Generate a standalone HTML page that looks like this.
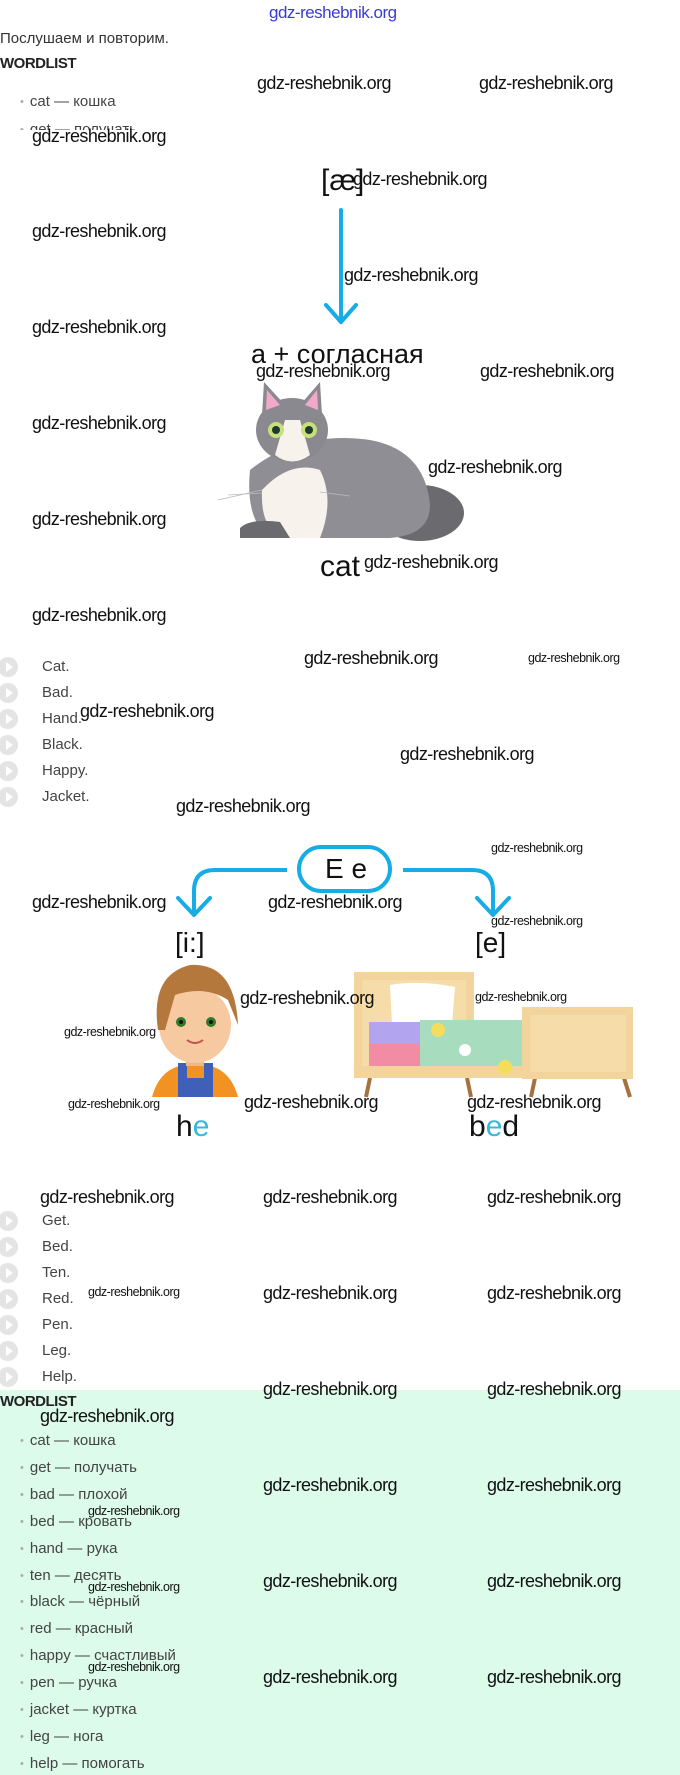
<!DOCTYPE html>
<html><head><meta charset="utf-8"><style>
html,body{margin:0;padding:0;background:#fff;}
body{width:680px;height:1775px;position:relative;overflow:hidden;font-family:"Liberation Sans",sans-serif;}
.a{position:absolute;white-space:nowrap;line-height:1;}
.w{position:absolute;white-space:nowrap;line-height:1;font-size:18px;letter-spacing:-0.6px;color:#111;font-family:"Liberation Sans Narrow","Liberation Sans",sans-serif;}
.s{font-size:12.5px;letter-spacing:-0.5px;}
.li{position:absolute;left:42px;font-size:15px;color:#444;line-height:1;}
.ic{position:absolute;left:-2px;width:20px;height:20px;border-radius:50%;background:#e4e4e4;}
.ic:after{content:"";position:absolute;left:8px;top:5px;border-left:7px solid #fff;border-top:5px solid transparent;border-bottom:5px solid transparent;}
.wl{position:absolute;left:20px;font-size:15px;color:#444;line-height:1;font-family:"Liberation Sans","DejaVu Sans",sans-serif;}
.wl:before{content:"•";color:#aaa;font-size:11px;margin-right:6px;position:relative;top:-1px;}
</style></head><body>
<div style="position:absolute;left:0;top:1390px;width:680px;height:385px;background:#dcfbea;"></div>
<svg style="position:absolute;left:0;top:0" width="680" height="1775">
<line x1="341" y1="210" x2="341" y2="322" stroke="#16ace6" stroke-width="4" stroke-linecap="round"/>
<polyline points="326,305 341,322 356,305" fill="none" stroke="#16ace6" stroke-width="4" stroke-linecap="round" stroke-linejoin="round"/>
<ellipse cx="420" cy="513" rx="44" ry="28" fill="#6b6a6f"/>
<path d="M250,470 Q300,430 370,440 Q425,450 430,505 Q430,535 390,538 L270,538 Q245,520 250,470Z" fill="#8f8e94"/>
<path d="M262,490 Q260,535 290,538 L320,538 Q335,500 320,470 Q290,460 262,490Z" fill="#f7f3ec"/>
<path d="M240,528 Q250,518 280,522 L290,538 L240,538Z" fill="#6b6a6f"/>
<ellipse cx="292" cy="430" rx="36" ry="32" fill="#8a898f"/>
<polygon points="262,415 264,382 285,405" fill="#8a898f"/><polygon points="322,415 320,382 300,405" fill="#8a898f"/>
<polygon points="266,410 267,390 280,405" fill="#f2a9c9"/><polygon points="318,410 317,390 305,405" fill="#f2a9c9"/>
<path d="M285,420 L300,420 L310,455 Q292,468 275,455Z" fill="#f7f3ec"/>
<circle cx="276" cy="430" r="8" fill="#c7e07c"/><circle cx="276" cy="430" r="4" fill="#1d3a2a"/>
<circle cx="309" cy="430" r="8" fill="#c7e07c"/><circle cx="309" cy="430" r="4" fill="#1d3a2a"/>
<g stroke="#bbb" stroke-width="0.8"><line x1="218" y1="500" x2="262" y2="490"/><line x1="228" y1="495" x2="262" y2="493"/><line x1="320" y1="492" x2="350" y2="496"/></g>
<rect x="299" y="847" width="91" height="44" rx="22" fill="#fff" stroke="#16ace6" stroke-width="4"/>
<path d="M287,870 L215,870 Q194,870 194,891 L194,913" fill="none" stroke="#16ace6" stroke-width="4"/>
<polyline points="178,898 194,915 210,898" fill="none" stroke="#16ace6" stroke-width="4" stroke-linecap="round" stroke-linejoin="round"/>
<path d="M403,870 L472,870 Q493,870 493,891 L493,913" fill="none" stroke="#16ace6" stroke-width="4"/>
<polyline points="477,898 493,915 509,898" fill="none" stroke="#16ace6" stroke-width="4" stroke-linecap="round" stroke-linejoin="round"/>
<path d="M152,1097 Q160,1068 185,1065 L205,1065 Q230,1068 238,1097Z" fill="#f29222"/>
<rect x="178" y="1063" width="9" height="34" fill="#3f5fb8"/><rect x="204" y="1063" width="9" height="34" fill="#3f5fb8"/><rect x="178" y="1078" width="35" height="19" fill="#3f5fb8"/>
<rect x="186" y="1050" width="18" height="16" fill="#f0b889"/>
<ellipse cx="195" cy="1025" rx="36" ry="38" fill="#f7c9a1"/>
<path d="M158,1030 Q150,975 190,965 Q235,962 238,1025 L228,1000 Q205,985 175,995 L165,1030Z" fill="#b5783c"/>
<circle cx="181" cy="1022" r="5" fill="#2f7a2c"/><circle cx="211" cy="1022" r="5" fill="#2f7a2c"/>
<circle cx="181" cy="1022" r="2" fill="#111"/><circle cx="211" cy="1022" r="2" fill="#111"/>
<path d="M187,1040 Q195,1046 203,1040" fill="none" stroke="#c0504a" stroke-width="2"/>
<g stroke="#a5713f" stroke-width="4"><line x1="370" y1="1078" x2="366" y2="1097"/><line x1="467" y1="1078" x2="471" y2="1097"/><line x1="535" y1="1078" x2="531" y2="1097"/><line x1="624" y1="1078" x2="630" y2="1097"/></g>
<rect x="354" y="972" width="120" height="106" fill="#f3d49c"/>
<rect x="362" y="980" width="104" height="90" fill="#f6dca8"/>
<path d="M390,985 Q420,980 455,987 L452,1025 L392,1025Z" fill="#fff"/>
<rect x="369" y="1022" width="52" height="22" fill="#b3a4f0"/>
<rect x="369" y="1044" width="52" height="22" fill="#f28ba4"/>
<rect x="420" y="1020" width="104" height="58" fill="#a7dcbf"/>
<rect x="354" y="1066" width="170" height="12" fill="#f3d49c"/>
<circle cx="438" cy="1030" r="7" fill="#f4dd5b"/><circle cx="465" cy="1050" r="6" fill="#fff"/><circle cx="505" cy="1067" r="7" fill="#f4dd5b"/>
<rect x="522" y="1007" width="111" height="72" fill="#f3d49c"/>
<rect x="530" y="1015" width="96" height="57" fill="#f6dca8"/>
</svg>

<div class="a" style="left:269px;top:4px;font-size:17px;color:#3a3ad6;font-family:'Liberation Sans Narrow','Liberation Sans',sans-serif;letter-spacing:-0.5px;">gdz-reshebnik.org</div>
<div class="a" style="left:0;top:31px;font-size:15px;color:#333;">Послушаем и повторим.</div>
<div class="a" style="left:0;top:56px;font-size:15px;color:#222;font-weight:bold;letter-spacing:-0.5px;font-family:'Liberation Sans Narrow','Liberation Sans',sans-serif;">WORDLIST</div>
<div class="wl" style="top:94px;">cat — кошка</div>
<div style="position:absolute;left:0;top:122px;width:200px;height:8px;overflow:hidden;"><div class="wl" style="top:0;">get — получать</div></div>

<div class="a" style="left:321px;top:166px;font-size:30px;color:#111;">[æ]</div>
<div class="a" style="left:251px;top:341px;font-size:27px;color:#111;">а + согласная</div>
<div class="a" style="left:320px;top:552px;font-size:30px;color:#111;">cat</div>

<div class="ic" style="top:657px"></div><div class="li" style="top:659px">Cat.</div>
<div class="ic" style="top:683px"></div><div class="li" style="top:685px">Bad.</div>
<div class="ic" style="top:709px"></div><div class="li" style="top:711px">Hand.</div>
<div class="ic" style="top:735px"></div><div class="li" style="top:737px">Black.</div>
<div class="ic" style="top:761px"></div><div class="li" style="top:763px">Happy.</div>
<div class="ic" style="top:787px"></div><div class="li" style="top:789px">Jacket.</div>

<div class="a" style="left:325px;top:855px;font-size:28px;color:#111;">E e</div>
<div class="a" style="left:175px;top:929px;font-size:28px;color:#111;">[i:]</div>
<div class="a" style="left:475px;top:929px;font-size:28px;color:#111;">[e]</div>
<div class="a" style="left:176px;top:1112px;font-size:30px;color:#111;">h<span style="color:#3ab8dc">e</span></div>
<div class="a" style="left:469px;top:1112px;font-size:30px;color:#111;">b<span style="color:#3ab8dc">e</span>d</div>

<div class="ic" style="top:1211px"></div><div class="li" style="top:1213px">Get.</div>
<div class="ic" style="top:1237px"></div><div class="li" style="top:1239px">Bed.</div>
<div class="ic" style="top:1263px"></div><div class="li" style="top:1265px">Ten.</div>
<div class="ic" style="top:1289px"></div><div class="li" style="top:1291px">Red.</div>
<div class="ic" style="top:1315px"></div><div class="li" style="top:1317px">Pen.</div>
<div class="ic" style="top:1341px"></div><div class="li" style="top:1343px">Leg.</div>
<div class="ic" style="top:1367px"></div><div class="li" style="top:1369px">Help.</div>

<div class="a" style="left:0;top:1394px;font-size:15px;color:#222;font-weight:bold;letter-spacing:-0.5px;font-family:'Liberation Sans Narrow','Liberation Sans',sans-serif;">WORDLIST</div>
<div class="wl" style="top:1433px">cat — кошка</div>
<div class="wl" style="top:1460px">get — получать</div>
<div class="wl" style="top:1487px">bad — плохой</div>
<div class="wl" style="top:1514px">bed — кровать</div>
<div class="wl" style="top:1541px">hand — рука</div>
<div class="wl" style="top:1568px">ten — десять</div>
<div class="wl" style="top:1594px">black — чёрный</div>
<div class="wl" style="top:1621px">red — красный</div>
<div class="wl" style="top:1648px">happy — счастливый</div>
<div class="wl" style="top:1675px">pen — ручка</div>
<div class="wl" style="top:1702px">jacket — куртка</div>
<div class="wl" style="top:1729px">leg — нога</div>
<div class="wl" style="top:1756px">help — помогать</div>

<div class="w" style="left:257px;top:74px">gdz-reshebnik.org</div>
<div class="w" style="left:479px;top:74px">gdz-reshebnik.org</div>
<div class="w" style="left:32px;top:127px">gdz-reshebnik.org</div>
<div class="w" style="left:353px;top:170px">gdz-reshebnik.org</div>
<div class="w" style="left:32px;top:222px">gdz-reshebnik.org</div>
<div class="w" style="left:344px;top:266px">gdz-reshebnik.org</div>
<div class="w" style="left:32px;top:318px">gdz-reshebnik.org</div>
<div class="w" style="left:256px;top:362px">gdz-reshebnik.org</div>
<div class="w" style="left:480px;top:362px">gdz-reshebnik.org</div>
<div class="w" style="left:32px;top:414px">gdz-reshebnik.org</div>
<div class="w" style="left:428px;top:458px">gdz-reshebnik.org</div>
<div class="w" style="left:32px;top:510px">gdz-reshebnik.org</div>
<div class="w" style="left:364px;top:553px">gdz-reshebnik.org</div>
<div class="w" style="left:32px;top:606px">gdz-reshebnik.org</div>
<div class="w" style="left:304px;top:649px">gdz-reshebnik.org</div>
<div class="w s" style="left:528px;top:652px">gdz-reshebnik.org</div>
<div class="w" style="left:80px;top:702px">gdz-reshebnik.org</div>
<div class="w" style="left:400px;top:745px">gdz-reshebnik.org</div>
<div class="w" style="left:176px;top:797px">gdz-reshebnik.org</div>
<div class="w s" style="left:491px;top:842px">gdz-reshebnik.org</div>
<div class="w" style="left:32px;top:893px">gdz-reshebnik.org</div>
<div class="w" style="left:268px;top:893px">gdz-reshebnik.org</div>
<div class="w s" style="left:491px;top:915px">gdz-reshebnik.org</div>
<div class="w" style="left:240px;top:989px">gdz-reshebnik.org</div>
<div class="w s" style="left:475px;top:991px">gdz-reshebnik.org</div>
<div class="w s" style="left:64px;top:1026px">gdz-reshebnik.org</div>
<div class="w s" style="left:68px;top:1098px">gdz-reshebnik.org</div>
<div class="w" style="left:244px;top:1093px">gdz-reshebnik.org</div>
<div class="w" style="left:467px;top:1093px">gdz-reshebnik.org</div>

<div class="w" style="left:40px;top:1188px">gdz-reshebnik.org</div>
<div class="w" style="left:263px;top:1188px">gdz-reshebnik.org</div>
<div class="w" style="left:487px;top:1188px">gdz-reshebnik.org</div>
<div class="w s" style="left:88px;top:1286px">gdz-reshebnik.org</div>
<div class="w" style="left:263px;top:1284px">gdz-reshebnik.org</div>
<div class="w" style="left:487px;top:1284px">gdz-reshebnik.org</div>
<div class="w" style="left:263px;top:1380px">gdz-reshebnik.org</div>
<div class="w" style="left:487px;top:1380px">gdz-reshebnik.org</div>
<div class="w" style="left:40px;top:1407px">gdz-reshebnik.org</div>
<div class="w" style="left:263px;top:1476px">gdz-reshebnik.org</div>
<div class="w" style="left:487px;top:1476px">gdz-reshebnik.org</div>
<div class="w s" style="left:88px;top:1505px">gdz-reshebnik.org</div>
<div class="w" style="left:263px;top:1572px">gdz-reshebnik.org</div>
<div class="w" style="left:487px;top:1572px">gdz-reshebnik.org</div>
<div class="w s" style="left:88px;top:1581px">gdz-reshebnik.org</div>
<div class="w s" style="left:88px;top:1661px">gdz-reshebnik.org</div>
<div class="w" style="left:263px;top:1668px">gdz-reshebnik.org</div>
<div class="w" style="left:487px;top:1668px">gdz-reshebnik.org</div>
</body></html>
